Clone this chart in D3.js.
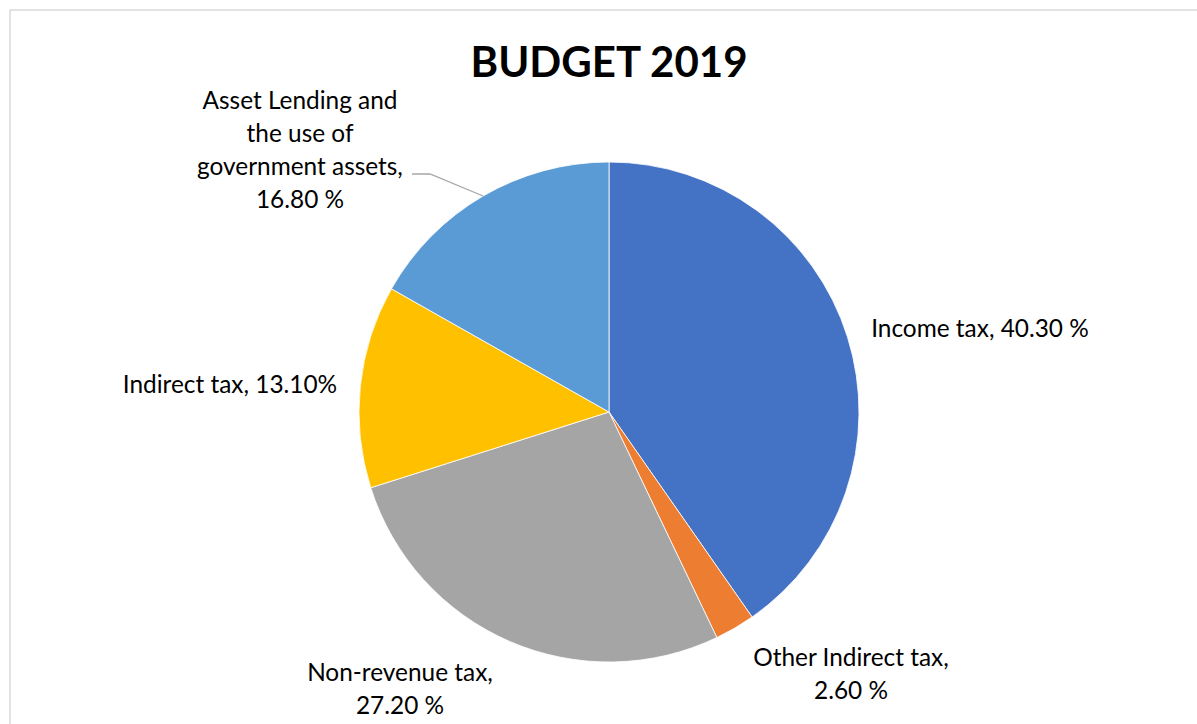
<!DOCTYPE html>
<html>
<head>
<meta charset="utf-8">
<script src="https://cdn.jsdelivr.net/npm/d3@7"></script>
<style>
  body { margin: 0; background: #fff; }
  svg { display: block; }
  text { font-family: Lato, "Open Sans", sans-serif; fill: #000; }
</style>
</head>
<body>
<div id="chart"></div>
<script>
// Budget shares (percent), clockwise from 12 o'clock
var categories = ["Income tax", "Other Indirect tax", "Non-revenue tax", "Indirect tax",
    "Asset Lending and the use of government assets"];
var shares = [40.3, 2.6, 27.2, 13.1, 16.8];
var labelLines = [
    ["Income tax, 40.30 %"],
    ["Other Indirect tax,", "2.60 %"],
    ["Non-revenue tax,", "27.20 %"],
    ["Indirect tax, 13.10%"],
    ["Asset Lending and", "the use of", "government assets,", "16.80 %"]
];
var colors = ["#4472C4", "#ED7D31", "#A5A5A5", "#FFC000", "#5B9BD5"];

function drawPie() {
    var svgWidth = 1197;
    var svgHeight = 724;

    var svg = d3.select("#chart")
        .append("svg")
        .attr("width", svgWidth)
        .attr("height", svgHeight);

    // chart area border
    svg.append("rect")
        .attr("x", 10)
        .attr("y", 10)
        .attr("width", 1200)
        .attr("height", 730)
        .attr("fill", "none")
        .attr("stroke", "#d9d9d9")
        .attr("stroke-width", 1.5);

    // title
    svg.append("text")
        .attr("x", 609)
        .attr("y", 77)
        .attr("text-anchor", "middle")
        .style("font-weight", "bold")
        .style("font-size", "42px")
        .text("BUDGET 2019");

    var cx = 609, cy = 412, radius = 250;

    var data = categories.map(function(c, i) {
        return { name: c, value: shares[i], lines: labelLines[i], color: colors[i] };
    });

    var pie = d3.pie()
        .value(d => d.value)
        .sort(null);

    var arc = d3.arc()
        .innerRadius(0)
        .outerRadius(radius);

    var g = svg.append("g")
        .attr("transform", `translate(${cx}, ${cy})`);

    var arcs = pie(data);

    g.selectAll("path.slice")
        .data(arcs)
        .enter()
        .append("path")
        .attr("class", "slice")
        .attr("d", arc)
        .attr("fill", d => d.data.color)
        .attr("stroke", "#fff")
        .attr("stroke-width", 0.8);

    // label centres relative to the pie centre (best-fit placement, like Excel)
    var labelPos = [
        { x: 371, y: -83 },
        { x: 242, y: 262 },
        { x: -209, y: 277 },
        { x: -379, y: -27 },
        { x: -309, y: -262 }
    ];
    var lineHeight = 33;

    arcs.forEach(function(a, i) {
        var p = labelPos[i];
        var n = a.data.lines.length;
        var t = g.append("text")
            .attr("text-anchor", "middle")
            .style("font-size", "24.4px");
        a.data.lines.forEach(function(line, j) {
            t.append("tspan")
                .attr("x", p.x)
                .attr("y", p.y + (j - (n - 1) / 2) * lineHeight + 8)
                .text(line);
        });
    });

    // leader line for the asset slice
    var asset = arcs[4];
    var mid = (asset.startAngle + asset.endAngle) / 2;
    var edge = [Math.sin(mid) * radius, -Math.cos(mid) * radius];
    g.append("polyline")
        .attr("points", [edge, [-179, -238], [-197, -238]].map(p => p.join(",")).join(" "))
        .attr("fill", "none")
        .attr("stroke", "#a6a6a6")
        .attr("stroke-width", 1.3);
}

drawPie();
</script>
</body>
</html>
